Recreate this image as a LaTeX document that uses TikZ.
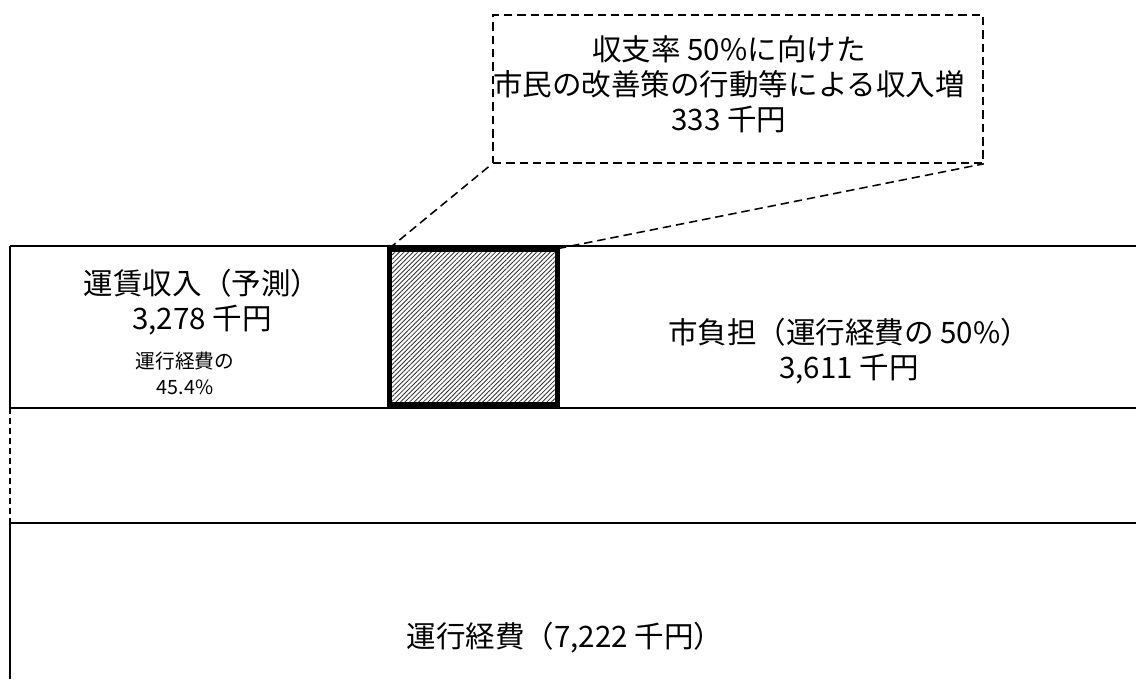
\documentclass[tikz,border=0pt]{standalone}
\usepackage{fontspec}
\setmainfont{Noto Sans CJK JP}
\usetikzlibrary{patterns.meta, positioning}

\tikzset{
  big/.style={font=\fontsize{21}{25}\selectfont, align=center, inner sep=0pt},
  small/.style={font=\fontsize{14}{18.5}\selectfont, align=center, inner sep=0pt},
  rule/.style={line width=1.3pt},
  leader/.style={dash pattern=on 6pt off 3.5pt, line width=1.1pt},
}

\begin{document}
\begin{tikzpicture}[x=0.025cm, y=-0.025cm]

\useasboundingbox (0,0) rectangle (1136,679);

\def\xl{10}
\def\xr{1136}

\draw[rule] (\xl,246) -- (\xr,246);
\draw[rule] (\xl,408) -- (\xr,408);
\draw[rule] (\xl,523) -- (\xr,523);
\draw[rule] (\xl,246) -- (\xl,408);
\draw[rule, dash pattern=on 4.3pt off 2.8pt] (\xl,408) -- (\xl,523);
\draw[rule] (\xl,523) -- (\xl,679);

\node (gain) [draw, line width=4.2pt, minimum width=4.2cm, minimum height=3.9cm,
    pattern={Lines[angle=45, distance=2.3pt, line width=0.6pt]}, pattern color=black!80]
    at (473.5,327) {};

\node (note) [draw, leader, minimum width=12.25cm, minimum height=3.7cm] at (738,89) {};
\node[big] (notetext) at (729,84) {収支率 50\%に向けた\\市民の改善策の行動等による収入増\\333 千円};

\draw[leader] (gain.north west) -- (note.south west);
\draw[leader] (gain.north east) -- (note.south east);

\node[big] (fare) at (202,302) {運賃収入（予測）\\3,278 千円};
\node[small] (ratio) at (185,373) {運行経費の\\45.4\%};

\node[big] (city) at (849,351) {市負担（運行経費の 50\%）\\3,611 千円};

\node[big] (cost) at (565,638) {運行経費（7,222 千円）};

\end{tikzpicture}
\end{document}
